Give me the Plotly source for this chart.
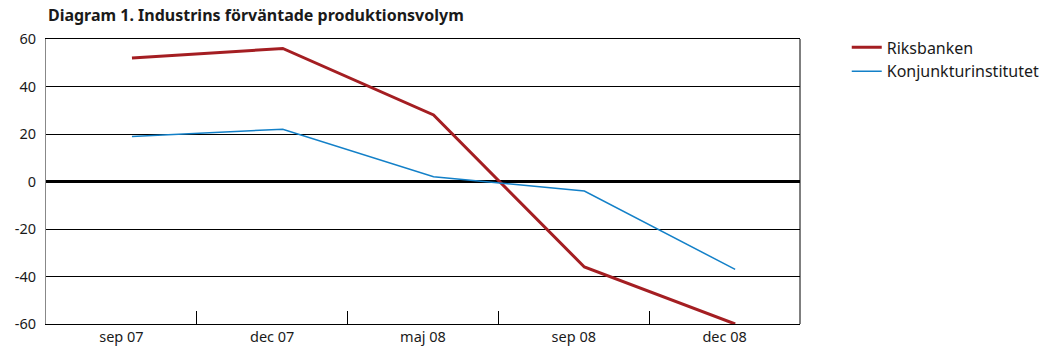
import plotly.graph_objects as go

# Survey periods and expected production volume (net balance)
periods = ["sep 07", "dec 07", "maj 08", "sep 08", "dec 08"]
riksbanken = [52, 56, 28, -36, -60]
konjunkturinstitutet = [19, 22, 2, -4, -37]
y_ticks = [-60, -40, -20, 0, 20, 40, 60]
y_labels = [str(v) for v in y_ticks]  # plain hyphen for negatives

# observations sit slightly right of each period's centre
obs_shift = 0.07
pos = [i + obs_shift for i in range(len(periods))]
boundaries = [i + 0.5 for i in range(len(periods) - 1)]

RED = "#A41E22"
BLUE = "#1380C8"
FONT = "Noto Sans"

fig = go.Figure()
fig.add_trace(go.Scatter(x=pos, y=riksbanken, mode="lines", name="Riksbanken",
                         line=dict(color=RED, width=3)))
fig.add_trace(go.Scatter(x=pos, y=konjunkturinstitutet, mode="lines",
                         name="Konjunkturinstitutet",
                         line=dict(color=BLUE, width=1.5)))

fig.update_layout(
    width=1042, height=352,
    margin=dict(l=46, r=242, t=39, b=28, autoexpand=False),
    paper_bgcolor="white", plot_bgcolor="white",
    font=dict(family=FONT, size=14, color="#1a1a1a"),
    title=dict(text="<b>Diagram 1. Industrins förväntade produktionsvolym</b>",
               xref="container", yref="container", x=0.046, y=0.957,
               xanchor="left", yanchor="middle",
               font=dict(family=FONT, size=16, color="#1a1a1a")),
    xaxis=dict(range=[-0.5, len(periods) - 0.5], tickmode="array",
               tickvals=list(range(len(periods))), ticktext=periods,
               ticks="", showgrid=False, zeroline=False, automargin=False,
               showline=True, linecolor="black", linewidth=1, mirror=True,
               tickfont=dict(size=14.5)),
    xaxis2=dict(range=[-0.5, len(periods) - 0.5], overlaying="x",
                tickmode="array", tickvals=boundaries, showticklabels=False,
                ticks="inside", ticklen=13, tickwidth=1, tickcolor="black",
                showgrid=False, zeroline=False, showline=False,
                automargin=False),
    yaxis=dict(range=[-60, 60], tickmode="array", tickvals=y_ticks,
               ticktext=y_labels, automargin=False,
               showgrid=True, gridcolor="black", gridwidth=1,
               zeroline=True, zerolinecolor="black", zerolinewidth=3,
               showline=True, linecolor="#888888", linewidth=1,
               ticks="", ticklabelstandoff=6, tickfont=dict(size=14.5)),
    legend=dict(x=1.062, y=1.03, xanchor="left", yanchor="top",
                font=dict(size=16), bgcolor="rgba(0,0,0,0)",
                tracegroupgap=0, itemwidth=30),
    showlegend=True,
)

# anchor trace for the boundary tick axis
fig.add_trace(go.Scatter(x=[None], y=[None], xaxis="x2", showlegend=False,
                         hoverinfo="skip"))

# right frame edge
fig.add_shape(type="line", xref="paper", yref="paper", x0=1, x1=1, y0=0, y1=1,
              line=dict(color="black", width=1))

fig.write_html("out.html")
